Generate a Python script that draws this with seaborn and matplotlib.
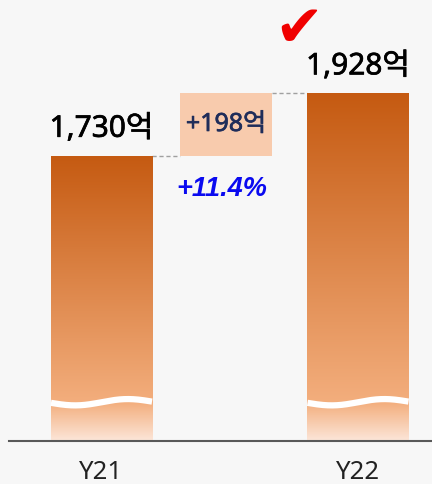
import numpy as np
import pandas as pd
import matplotlib
matplotlib.use("Agg")
import matplotlib.pyplot as plt
import matplotlib.patheffects as pe
import seaborn as sns
from matplotlib.colors import to_rgb
from matplotlib.patches import Rectangle

# ---- data ----
categories = ["Y21", "Y22"]
values = [1730, 1928]
value_labels = ["1,730억", "1,928억"]
delta_label = "+198억"
pct_label = "+11.4%"

sns.set_theme(style="white")
plt.rcParams['font.family'] = ['Noto Sans', 'Noto Sans CJK KR', 'DejaVu Sans']

BG = "#F7F7F7"
fig = plt.figure(figsize=(4.32, 4.85), dpi=100, facecolor=BG)
ax = fig.add_axes([9 / 432, 43 / 485, 423 / 432, 442 / 485])
ax.set_facecolor(BG)

df = pd.DataFrame({"cat": categories, "val": values})
BW = 0.394
sns.barplot(data=df, x="cat", y="val", ax=ax, width=BW, color="#C55A11",
            saturation=1, errorbar=None)

YMIN, YMAX = 825, 2227
ax.set_xlim(-0.3606, 1.2885)
ax.set_ylim(YMIN, YMAX)

WAVE_V = 946
top_c = np.array(to_rgb("#C55A11"))
mid_c = np.array(to_rgb("#F3AE7D"))
bot_c = np.array(to_rgb("#FCE6D9"))

for patch in ax.patches:
    x0 = patch.get_x()
    w = patch.get_width()
    h = patch.get_height()
    vs = np.linspace(YMIN, h, 500)
    cols = np.zeros((len(vs), 1, 3))
    for i, v in enumerate(vs):
        if v >= WAVE_V:
            t = (v - WAVE_V) / (h - WAVE_V)
            cols[i, 0] = mid_c + (top_c - mid_c) * t
        else:
            t = (v - YMIN) / (WAVE_V - YMIN)
            cols[i, 0] = bot_c + (mid_c - bot_c) * t
    im = ax.imshow(cols, extent=[x0, x0 + w, YMIN, h], origin="lower",
                   aspect="auto", interpolation="bilinear", zorder=2)
    im.set_clip_path(patch)
    patch.set_facecolor("none")
    patch.set_edgecolor("none")
    # decorative wave (axis-break mark)
    u = np.linspace(0, 1, 200)
    wy = WAVE_V - 9 * np.sin(2 * np.pi * u) + 4 * u
    ax.plot(x0 + u * w, wy, color="white", lw=4.5, solid_capstyle="butt",
            zorder=3)

# value labels above bars
for i, (v, lab) in enumerate(zip(values, value_labels)):
    ax.annotate(lab, xy=(i, v), xytext=(0, 19), textcoords="offset points",
                ha="center", va="center", fontsize=21.5, color="black",
                path_effects=[pe.withStroke(linewidth=0.5, foreground="black")],
                zorder=5)

# delta box
bx0, bx1 = 0.306, 0.665
ax.add_patch(Rectangle((bx0, values[0]), bx1 - bx0, values[1] - values[0],
                       facecolor="#F8CBAD", edgecolor="none", zorder=2))
ax.text((bx0 + bx1) / 2, (values[0] + values[1]) / 2, delta_label,
        ha="center", va="center", fontsize=18, color="#1F2D5A",
        path_effects=[pe.withStroke(linewidth=0.5, foreground="#1F2D5A")],
        zorder=5)

# dashed connectors
ax.plot([BW / 2, bx0], [values[0], values[0]], color="#A0A0A0", lw=1,
        dashes=(3, 2), zorder=1)
ax.plot([bx1, 1 - BW / 2], [values[1], values[1]], color="#A0A0A0", lw=1,
        dashes=(3, 2), zorder=1)

# percentage
ax.annotate(pct_label, xy=((bx0 + bx1) / 2 - 0.015, values[0]),
            xytext=(0, -23), textcoords="offset points", ha="center",
            va="center", fontsize=19.5, color="#0A0AF0", fontweight="bold",
            fontstyle="italic", family=["Liberation Sans", "DejaVu Sans"],
            zorder=5)

# check mark
ax.annotate("\u2714", xy=(1, values[1]), xytext=(-43, 46.5),
            textcoords="offset points", ha="center", va="center",
            fontsize=42, color="#F00000", family=["DejaVu Sans"], zorder=5)

# axes styling
for s in ["top", "left", "right"]:
    ax.spines[s].set_visible(False)
ax.spines["bottom"].set_color("#595959")
ax.spines["bottom"].set_linewidth(1.5)
ax.set_yticks([])
ax.set_xlabel("")
ax.set_ylabel("")
ax.tick_params(axis="x", length=0, pad=13, labelsize=18.5, labelcolor="#222222")

fig.savefig("out.png", dpi=100, facecolor=BG)
